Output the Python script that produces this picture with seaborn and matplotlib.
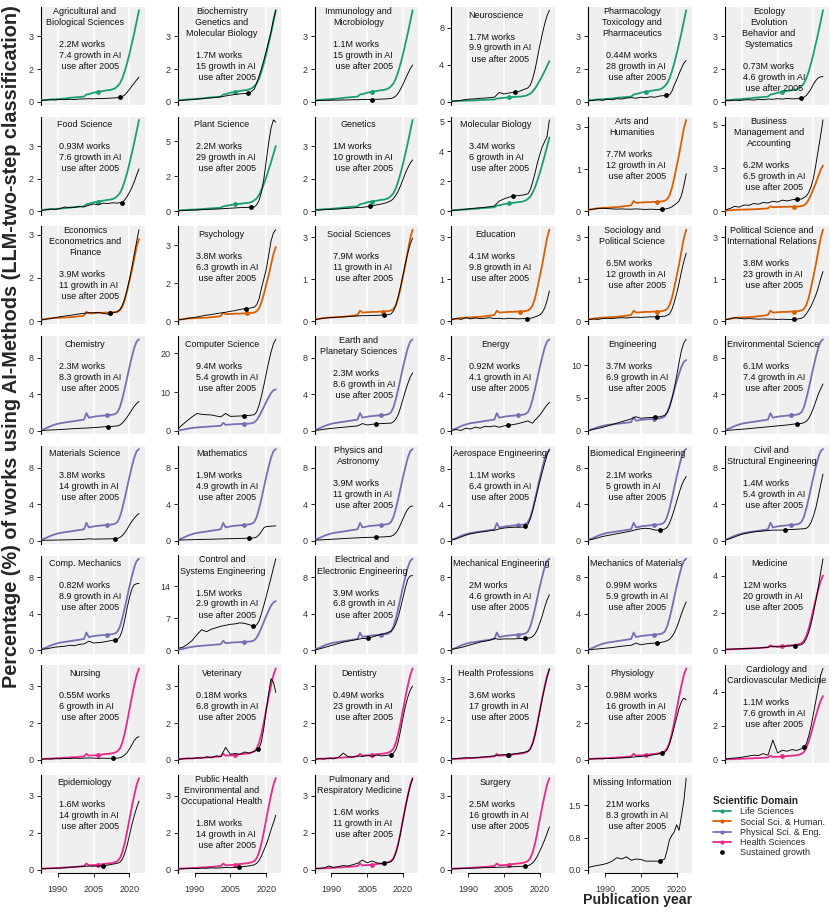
import numpy as np
import matplotlib
matplotlib.use("Agg")
import matplotlib.pyplot as plt
import seaborn as sns
from matplotlib.lines import Line2D
from matplotlib.font_manager import FontProperties

sns.set_style("white")
plt.rcParams['font.family'] = ['Liberation Sans', 'DejaVu Sans']

# ---------------- data ----------------
DOMAIN_YEARS = list(range(1983, 2025))
life = [0.08, 0.08, 0.09, 0.10, 0.11, 0.12, 0.12, 0.13, 0.14, 0.15,
        0.16, 0.17, 0.19, 0.20, 0.21, 0.22, 0.23, 0.24, 0.25, 0.35,
        0.37, 0.40, 0.44, 0.46, 0.48, 0.50, 0.52, 0.54, 0.56, 0.57,
        0.60, 0.65, 0.75, 0.88, 1.12, 1.45, 1.85, 2.30, 2.80, 3.30,
        3.85, 4.40]
social = [0.06, 0.07, 0.08, 0.10, 0.11, 0.12, 0.12, 0.13, 0.13, 0.14,
          0.14, 0.15, 0.15, 0.16, 0.17, 0.18, 0.19, 0.20, 0.22, 0.36,
          0.30, 0.30, 0.31, 0.31, 0.32, 0.32, 0.32, 0.33, 0.33, 0.33,
          0.34, 0.35, 0.37, 0.42, 0.55, 0.80, 1.15, 1.55, 1.95, 2.40,
          2.85, 3.15]
physical = [0.10, 0.18, 0.28, 0.40, 0.52, 0.62, 0.70, 0.78, 0.84, 0.88,
            0.92, 0.96, 1.00, 1.04, 1.08, 1.12, 1.16, 1.20, 1.25, 1.95,
            1.45, 1.50, 1.55, 1.60, 1.62, 1.65, 1.68, 1.70, 1.72, 1.75,
            1.78, 1.85, 2.05, 2.60, 3.50, 4.60, 5.80, 7.00, 8.10, 9.10,
            9.80, 10.05]
health = [0.04, 0.05, 0.05, 0.06, 0.06, 0.07, 0.07, 0.08, 0.08, 0.09,
          0.10, 0.10, 0.11, 0.12, 0.12, 0.13, 0.14, 0.15, 0.16, 0.27,
          0.19, 0.20, 0.20, 0.21, 0.22, 0.23, 0.25, 0.26, 0.27, 0.28,
          0.30, 0.33, 0.38, 0.50, 0.75, 1.15, 1.65, 2.20, 2.75, 3.25,
          3.70, 4.00]

domain_names = ["Life Sciences", "Social Sci. & Human.", "Physical Sci. & Eng.", "Health Sciences"]
domain_colors = ["#1B9E77", "#D95F02", "#7570B3", "#E7298A"]
domain_dot_years = [2007, 2011.8, 2010.7, 2007]

FIELD_YEARS = [1983, 1985, 1987, 1989, 1991, 1993, 1995, 1997, 1999, 2001,
               2003, 2005, 2007, 2009, 2011, 2013, 2015, 2016, 2017, 2018,
               2019, 2020, 2021, 2022, 2023, 2024]

agri = [0.07,0.08,0.10,0.09,0.11,0.10,0.12,0.11,0.13,0.14, 0.15,0.14,0.16,0.15,0.17,0.18,0.20,0.21,0.25,0.33, 0.45,0.60,0.75,0.90,1.05,1.18]
biochem = [0.05,0.07,0.09,0.11,0.13,0.15,0.17,0.19,0.21,0.24, 0.28,0.32,0.35,0.38,0.40,0.42,0.60,0.90,1.22,1.60, 2.00,2.45,2.90,3.35,3.95,4.40]
immuno = [0.05,0.06,0.07,0.07,0.08,0.08,0.09,0.09,0.10,0.10, 0.11,0.11,0.11,0.12,0.13,0.14,0.16,0.20,0.28,0.42, 0.62,0.85,1.10,1.35,1.58,1.77]
neuro = [0.05,0.10,0.15,0.25,0.30,0.32,0.38,0.40,0.45,0.50, 1.00,0.85,0.95,1.02,1.10,1.30,1.50,1.80,2.50,3.50, 4.80,6.10,7.30,8.40,9.30,9.90]
pharma = [0.05,0.06,0.10,0.07,0.12,0.10,0.15,0.13,0.18,0.20, 0.17,0.22,0.20,0.24,0.22,0.28,0.30,0.38,0.33,0.50, 0.80,1.05,1.35,1.60,1.85,1.98]
ecology = [0.06,0.05,0.08,0.06,0.09,0.10,0.08,0.12,0.10,0.13, 0.12,0.15,0.13,0.16,0.14,0.15,0.16,0.22,0.30,0.45, 0.62,0.85,1.02,1.15,1.20,1.21]
food = [0.05,0.08,0.12,0.10,0.14,0.22,0.18,0.20,0.24,0.22, 0.30,0.36,0.32,0.40,0.38,0.42,0.40,0.43,0.42,0.55, 0.72,0.92,1.15,1.42,1.75,2.05]
plant = [0.05,0.06,0.08,0.09,0.10,0.12,0.13,0.15,0.16,0.18, 0.20,0.22,0.24,0.26,0.27,0.28,0.30,0.45,0.75,1.30, 2.20,3.40,4.60,5.60,6.15,6.00]
genetics = [0.08,0.07,0.09,0.10,0.11,0.12,0.14,0.15,0.17,0.19, 0.20,0.23,0.26,0.32,0.36,0.42,0.52,0.62,0.78,0.98, 1.25,1.55,1.85,2.10,2.32,2.48]
molbio = [0.06,0.08,0.10,0.14,0.17,0.20,0.22,0.25,0.28,0.33, 0.62,0.75,0.85,0.92,0.95,0.98,1.05,1.30,1.75,2.30, 2.90,3.40,3.85,4.15,4.45,5.45]
arts = [0.06,0.08,0.10,0.11,0.10,0.09,0.08,0.09,0.08,0.08, 0.09,0.08,0.07,0.08,0.07,0.07,0.08,0.10,0.12,0.16, 0.22,0.28,0.36,0.55,0.88,1.30]
business = [0.10,0.20,0.35,0.30,0.45,0.42,0.55,0.50,0.62,0.58, 0.70,0.65,0.78,0.72,0.80,0.85,0.85,0.95,1.05,1.30, 1.70,2.30,3.20,4.20,5.20,6.28]
economics = [0.04,0.08,0.10,0.14,0.17,0.20,0.22,0.25,0.28,0.30, 0.33,0.32,0.34,0.30,0.27,0.32,0.36,0.45,0.60,0.85, 1.20,1.60,2.05,2.55,3.05,3.51]
psychology = [0.05,0.08,0.12,0.15,0.18,0.22,0.26,0.28,0.32,0.35, 0.38,0.42,0.45,0.50,0.53,0.55,0.60,0.70,0.95,1.40, 1.80,2.20,2.80,3.40,3.75,3.89]
socsci = [0.05,0.08,0.10,0.12,0.13,0.14,0.15,0.16,0.17,0.18, 0.19,0.19,0.20,0.20,0.21,0.21,0.25,0.35,0.55,0.85, 1.20,1.60,2.00,2.35,2.65,2.86]
education = [0.05,0.10,0.06,0.12,0.08,0.11,0.09,0.10,0.12,0.09, 0.10,0.08,0.10,0.09,0.08,0.09,0.09,0.10,0.12,0.15, 0.18,0.22,0.30,0.45,0.70,1.04]
sociology = [0.05,0.08,0.06,0.09,0.10,0.09,0.11,0.12,0.11,0.13, 0.14,0.13,0.14,0.15,0.15,0.16,0.17,0.20,0.25,0.40, 0.65,0.95,1.30,1.70,2.05,2.34]
polsci = [0.05,0.08,0.12,0.10,0.08,0.09,0.08,0.07,0.08,0.07, 0.07,0.06,0.07,0.06,0.06,0.07,0.10,0.15,0.25,0.38, 0.52,0.70,0.90,1.15,1.45,1.71]
chemistry = [0.05,0.07,0.10,0.12,0.15,0.18,0.22,0.25,0.28,0.30, 0.33,0.36,0.40,0.44,0.48,0.50,0.55,0.65,0.85,1.15, 1.50,1.90,2.30,2.70,3.00,3.24]
compsci = [0.50,1.50,2.50,3.40,4.20,4.00,3.90,3.85,3.60,3.40, 4.20,3.50,3.55,3.60,3.65,3.75,3.90,4.60,6.20,8.40, 11.00,13.80,16.60,19.00,21.00,22.10]
earth = [0.05,0.10,0.18,0.25,0.30,0.35,0.40,0.45,0.50,0.55, 0.80,0.65,0.72,0.78,0.80,0.83,0.85,1.00,1.30,1.80, 2.60,3.50,4.40,5.20,5.90,6.37]
energy = [0.05,0.15,0.05,0.30,0.20,0.42,0.30,0.50,0.45,0.55, 0.40,0.55,0.62,0.70,0.80,0.95,1.10,0.95,0.85,1.20, 1.45,1.75,2.10,2.50,2.85,3.13]
engineering = [0.05,0.20,0.35,0.50,0.70,0.90,1.10,1.30,1.50,1.70, 2.00,1.80,1.85,1.90,1.95,2.00,2.20,2.60,3.30,4.50, 6.00,7.80,9.70,11.40,12.50,13.00]
environ = [0.05,0.08,0.12,0.16,0.20,0.25,0.30,0.35,0.40,0.45, 0.50,0.55,0.60,0.65,0.72,0.78,0.82,0.90,1.05,1.35, 1.85,2.50,3.25,4.00,4.60,5.15]
materials = [0.03,0.04,0.05,0.06,0.07,0.08,0.09,0.10,0.12,0.14, 0.20,0.16,0.17,0.18,0.19,0.20,0.24,0.35,0.55,0.85, 1.25,1.70,2.10,2.45,2.75,2.98]
mathematics = [0.05,0.07,0.09,0.10,0.12,0.13,0.14,0.15,0.17,0.18, 0.20,0.21,0.22,0.24,0.25,0.27,0.30,0.40,0.65,1.00, 1.40,1.55,1.55,1.58,1.60,1.62]
physics = [0.05,0.07,0.10,0.13,0.16,0.19,0.22,0.25,0.28,0.30, 0.33,0.35,0.36,0.38,0.40,0.43,0.48,0.60,0.85,1.25, 1.80,2.40,3.00,3.45,3.75,3.80]
aerospace = [0.05,0.20,0.40,0.60,0.75,0.85,0.95,1.00,1.10,1.15, 1.30,1.40,1.45,1.48,1.50,1.50,1.80,2.40,3.30,4.40, 5.50,6.60,7.60,8.60,9.50,10.20]
biomedical = [0.05,0.15,0.30,0.45,0.55,0.65,0.75,0.85,0.95,1.05, 1.20,1.30,1.35,1.30,1.15,1.15,1.25,1.45,1.90,2.60, 3.40,4.30,5.20,6.00,6.60,7.03]
civil = [0.05,0.20,0.40,0.60,0.75,0.85,0.95,1.00,1.05,1.10, 1.15,1.15,1.15,1.20,1.22,1.25,1.28,1.30,1.35,1.55, 2.00,2.70,3.60,4.80,6.10,7.30]
compmech = [0.10,0.15,0.25,0.35,0.40,0.45,0.55,0.50,0.65,0.70, 1.00,0.80,0.85,0.90,1.00,1.10,1.20,1.50,2.20,3.30, 4.60,5.80,6.70,7.20,7.30,7.34]
control = [0.40,0.60,1.20,2.00,3.20,4.20,3.80,4.30,4.60,4.90, 5.10,5.30,5.40,5.60,5.50,5.20,4.90,5.20,6.00,7.50, 9.20,11.00,12.90,14.80,16.80,18.70]
electrical = [0.05,0.15,0.30,0.45,0.60,0.75,0.90,1.00,1.10,1.20, 1.30,1.30,1.45,1.60,1.75,1.90,2.10,2.40,2.90,3.70, 4.70,5.80,6.90,7.80,8.15,8.20]
mechanical = [0.10,0.20,0.30,0.45,0.60,0.75,0.90,1.00,1.10,1.30, 1.20,1.25,1.25,1.25,1.28,1.30,1.32,1.38,1.50,1.80, 2.30,3.00,3.80,4.70,5.50,6.10]
mechmat = [0.05,0.10,0.15,0.20,0.25,0.30,0.38,0.45,0.50,0.55, 0.80,0.60,0.70,0.75,0.80,0.85,0.95,1.05,1.20,1.50, 1.90,2.50,3.20,4.00,4.70,5.30]
medicine = [0.05,0.06,0.07,0.08,0.09,0.10,0.11,0.12,0.14,0.16, 0.22,0.18,0.20,0.22,0.24,0.26,0.30,0.40,0.62,0.95, 1.40,2.00,2.65,3.35,4.15,4.90]
nursing = [0.03,0.05,0.04,0.06,0.05,0.07,0.06,0.08,0.07,0.08, 0.09,0.08,0.07,0.08,0.07,0.07,0.08,0.10,0.14,0.22, 0.32,0.48,0.66,0.85,0.97,1.02]
veterinary = [0.02,0.05,0.08,0.06,0.10,0.08,0.14,0.10,0.18,0.15, 0.55,0.25,0.28,0.25,0.35,0.30,0.38,0.42,0.50,0.80, 1.40,2.20,2.90,3.55,3.40,2.95]
dentistry = [0.03,0.06,0.04,0.08,0.05,0.12,0.30,0.15,0.12,0.18, 0.15,0.20,0.16,0.22,0.18,0.20,0.23,0.30,0.45,0.80, 1.30,1.85,2.35,2.75,3.05,3.23]
healthprof = [0.05,0.06,0.08,0.10,0.09,0.10,0.12,0.14,0.16,0.18, 0.22,0.24,0.24,0.27,0.30,0.33,0.38,0.48,0.72,1.10, 1.60,2.15,2.70,3.20,3.65,4.05]
physiology = [0.04,0.05,0.06,0.05,0.07,0.06,0.08,0.09,0.10,0.12, 0.14,0.15,0.18,0.20,0.24,0.28,0.33,0.45,0.70,1.05, 1.45,1.85,2.25,2.55,2.70,2.62]
cardiology = [0.05,0.10,0.12,0.15,0.20,0.25,0.30,0.28,0.40,0.30, 1.25,0.45,0.60,0.55,0.65,0.60,0.70,0.80,1.00,1.50, 2.10,2.90,3.70,4.50,5.30,5.73]
epidemiology = [0.04,0.05,0.06,0.06,0.07,0.08,0.10,0.12,0.13,0.14, 0.16,0.15,0.16,0.17,0.20,0.24,0.28,0.33,0.45,0.70, 1.05,1.50,1.95,2.35,2.70,3.00]
pubhealth = [0.03,0.04,0.05,0.06,0.05,0.07,0.06,0.08,0.07,0.08, 0.10,0.09,0.10,0.12,0.14,0.17,0.21,0.28,0.40,0.60, 0.85,1.10,1.40,1.75,2.05,2.38]
pulmonary = [0.05,0.06,0.08,0.16,0.10,0.14,0.18,0.16,0.22,0.28, 0.42,0.30,0.38,0.30,0.26,0.30,0.35,0.48,0.74,1.12, 1.62,2.18,2.72,3.22,3.65,3.98]
surgery = [0.03,0.04,0.05,0.06,0.06,0.07,0.08,0.09,0.09,0.10, 0.11,0.11,0.12,0.13,0.14,0.15,0.17,0.22,0.30,0.42, 0.60,0.82,1.05,1.30,1.58,1.87]
missing = [0.05,0.08,0.10,0.12,0.15,0.20,0.28,0.25,0.30,0.22, 0.25,0.24,0.20,0.20,0.20,0.20,0.25,0.45,0.70,0.80, 0.88,1.05,0.92,1.25,1.60,2.14]

field_series = [agri, biochem, immuno, neuro, pharma, ecology,
                food, plant, genetics, molbio, arts, business,
                economics, psychology, socsci, education, sociology, polsci,
                chemistry, compsci, earth, energy, engineering, environ,
                materials, mathematics, physics, aerospace, biomedical, civil,
                compmech, control, electrical, mechanical, mechmat, medicine,
                nursing, veterinary, dentistry, healthprof, physiology, cardiology,
                epidemiology, pubhealth, pulmonary, surgery, missing]

titles = ["Agricultural and\nBiological Sciences", "Biochemistry\nGenetics and\nMolecular Biology",
          "Immunology and\nMicrobiology", "Neuroscience", "Pharmacology\nToxicology and\nPharmaceutics",
          "Ecology\nEvolution\nBehavior and\nSystematics",
          "Food Science", "Plant Science", "Genetics", "Molecular Biology", "Arts and\nHumanities",
          "Business\nManagement and\nAccounting",
          "Economics\nEconometrics and\nFinance", "Psychology", "Social Sciences", "Education",
          "Sociology and\nPolitical Science", "Political Science and\nInternational Relations",
          "Chemistry", "Computer Science", "Earth and\nPlanetary Sciences", "Energy", "Engineering",
          "Environmental Science",
          "Materials Science", "Mathematics", "Physics and\nAstronomy", "Aerospace Engineering",
          "Biomedical Engineering", "Civil and\nStructural Engineering",
          "Comp. Mechanics", "Control and\nSystems Engineering", "Electrical and\nElectronic Engineering",
          "Mechanical Engineering", "Mechanics of Materials", "Medicine",
          "Nursing", "Veterinary", "Dentistry", "Health Professions", "Physiology",
          "Cardiology and\nCardiovascular Medicine",
          "Epidemiology", "Public Health\nEnvironmental and\nOccupational Health",
          "Pulmonary and\nRespiratory Medicine", "Surgery", "Missing Information"]

# domain index per field (None = no domain)
field_domain = [0, 0, 0, 0, 0, 0,
                0, 0, 0, 0, 1, 1,
                1, 1, 1, 1, 1, 1,
                2, 2, 2, 2, 2, 2,
                2, 2, 2, 2, 2, 2,
                2, 2, 2, 2, 2, 3,
                3, 3, 3, 3, 3, 3,
                3, 3, 3, 3, None]

works = ["2.2", "1.7", "1.1", "1.7", "0.44", "0.73",
         "0.93", "2.2", "1", "3.4", "7.7", "6.2",
         "3.9", "3.8", "7.9", "4.1", "6.5", "3.8",
         "2.3", "9.4", "2.3", "0.92", "3.7", "6.1",
         "3.8", "1.9", "3.9", "1.1", "2.1", "1.4",
         "0.82", "1.5", "3.9", "2", "0.99", "12",
         "0.55", "0.18", "0.49", "3.6", "0.98", "1.1",
         "1.6", "1.8", "1.6", "2.5", "21"]
growth = ["7.4", "15", "15", "9.9", "28", "4.6",
          "7.6", "29", "10", "6", "12", "6.5",
          "11", "6.3", "11", "9.8", "12", "23",
          "8.3", "5.4", "8.6", "4.1", "6.9", "7.4",
          "14", "4.9", "11", "6.4", "5", "5.4",
          "8.9", "2.9", "6.8", "4.6", "5.9", "20",
          "6", "6.8", "23", "17", "16", "7.6",
          "14", "14", "11", "16", "8.3"]

sustained_year = [2016, 2012.5, 2007, 2009.5, 2015.5, 2014.8,
                  2017, 2013.8, 2006, 2008.7, 2014, 2013.2,
                  2012, 2011.5, 2012, 2014.5, 2011.8, 2011.8,
                  2011, 2010.8, 2008.7, 2006.5, 2010.8, 2013,
                  2014, 2012.9, 2008.7, 2013.8, 2012.9, 2008,
                  2013.8, 2014.5, 2005.5, 2013.6, 2011.8, 2012.2,
                  2013, 2016.6, 2014.8, 2006.6, 2013.8, 2016.2,
                  2009, 2008.7, 2012, 2014, 2012.9]

ytick_step = [1.57, 1.57, 1.57, 4.0, 1.57, 1.57,
              1.57, 2.35, 1.57, 1.79, 1.46, 2.97,
              1.66, 1.61, 1.44, 1.44, 1.44, 1.44,
              4.0, 9.37, 4.0, 4.0, 4.67, 4.0,
              4.0, 4.0, 4.0, 4.0, 4.0, 4.0,
              4.0, 6.56, 4.0, 4.0, 4.0, 2.0,
              1.61, 1.61, 1.61, 1.78, 1.61, 2.14,
              1.61, 1.61, 1.61, 1.61, 0.75]
ytick_labels = [["0", "2", "3"], ["0", "2", "3"], ["0", "2", "3"], ["0", "4", "8"], ["0", "2", "3"], ["0", "2", "3"],
                ["0", "2", "3"], ["0", "2", "5"], ["0", "2", "3"], ["0", "2", "4", "5"], ["0", "1", "3"], ["0", "3", "5"],
                ["0", "2", "3"], ["0", "2", "3"], ["0", "1", "3"], ["0", "1", "3"], ["0", "1", "3"], ["0", "1", "3"],
                ["0", "4", "8"], ["0", "10", "20"], ["0", "4", "8"], ["0", "4", "8"], ["0", "5", "10"], ["0", "4", "8"],
                ["0", "4", "8"], ["0", "4", "8"], ["0", "4", "8"], ["0", "4", "8"], ["0", "4", "8"], ["0", "4", "8"],
                ["0", "4", "8"], ["0", "7", "14"], ["0", "4", "8"], ["0", "4", "8"], ["0", "4", "8"], ["0", "2", "4"],
                ["0", "2", "3"], ["0", "2", "3"], ["0", "2", "3"], ["0", "2", "3"], ["0", "2", "3"], ["0", "2", "4"],
                ["0", "2", "3"], ["0", "2", "3"], ["0", "2", "3"], ["0", "2", "3"], ["0.0", "0.8", "1.5"]]

x_ticks = [1990, 2005, 2020]

# ---------------- layout ----------------
FW, FH = 834, 913
fig = plt.figure(figsize=(FW / 100, FH / 100), dpi=100)
renderer = fig.canvas.get_renderer()

COL_X = [41 + 136.8 * i for i in range(6)]
ROW_Y = [7 + 109.7 * i for i in range(8)]
PW, PH = 103.5, 98
FS = 6.5
LINE = 11
TITLE_X = 44
STATS_X = 18
domain_series = [life, social, physical, health]

for k, title in enumerate(titles):
    r, c = divmod(k, 6)
    x0, y0 = COL_X[c], ROW_Y[r]
    ax = fig.add_axes([x0 / FW, 1 - (y0 + PH) / FH, PW / FW, PH / FH])
    ax.set_facecolor("#EFEFEF")
    for g in x_ticks:
        ax.axvline(g, color="white", lw=1.1, zorder=1)
    ys = field_series[k]
    d = field_domain[k]
    M = max(ys)
    if d is not None:
        dser = domain_series[d]
        M = max(M, max(dser))
        sns.lineplot(x=DOMAIN_YEARS, y=dser, ax=ax, color=domain_colors[d], lw=1.3, zorder=3)
        ddot = domain_dot_years[d]
        sns.scatterplot(x=[ddot], y=[np.interp(ddot, DOMAIN_YEARS, dser)], ax=ax,
                        color=domain_colors[d], s=12, linewidth=0, zorder=4)
    sns.lineplot(x=FIELD_YEARS, y=ys, ax=ax, color="black", lw=0.65, zorder=5)
    sy = sustained_year[k]
    sns.scatterplot(x=[sy], y=[np.interp(sy, FIELD_YEARS, ys)], ax=ax,
                    color="black", s=12, linewidth=0, zorder=6)
    ax.set_xlim(1983, 2026.3)
    ax.set_ylim(-0.035 * M, 1.035 * M)
    labs = ytick_labels[k]
    ax.set_yticks([ytick_step[k] * i for i in range(len(labs))])
    ax.set_yticklabels(labs)
    ax.set_xlabel("")
    ax.set_ylabel("")
    for s in ["top", "right"]:
        ax.spines[s].set_visible(False)
    ax.spines["left"].set_color("black")
    ax.spines["left"].set_linewidth(0.8)
    ax.tick_params(axis="y", length=2.6, width=0.6, pad=2.6, labelsize=FS,
                   colors="black", labelcolor="#333333", left=True)
    if r == 7:
        ax.set_xticks(x_ticks)
        ax.set_xticklabels([str(v) for v in x_ticks])
        ax.spines["bottom"].set_visible(True)
        ax.spines["bottom"].set_color("black")
        ax.spines["bottom"].set_linewidth(0.8)
        ax.spines["bottom"].set_bounds(1990, 2020)
        ax.tick_params(axis="x", length=2.9, width=0.6, pad=6.0, labelsize=FS,
                       colors="black", labelcolor="#333333", bottom=True)
    else:
        ax.set_xticks([])
        ax.spines["bottom"].set_visible(False)

    # text block
    tl = title.split("\n")
    n = len(tl)
    off = 8 if n == 1 else 4.5
    texts = []
    for i, ln in enumerate(tl):
        t = ax.text(TITLE_X / PW, 1 - (off + i * LINE) / PH, ln, ha="center", va="center",
                    fontsize=FS, color="#111111", transform=ax.transAxes, zorder=7)
        texts.append(t)
    wmax = max(t.get_window_extent(renderer).width for t in texts)
    left = TITLE_X - wmax / 2
    right = TITLE_X + wmax / 2
    shift = 0
    if left < 2:
        shift = 2 - left
    elif right > PW - 2:
        shift = (PW - 2) - right
    if shift:
        for t in texts:
            t.set_x((TITLE_X + shift) / PW)
    stats = [f"{works[k]}M works", f"{growth[k]} growth in AI", " use after 2005"]
    for j, ln in enumerate(stats):
        ax.text(STATS_X / PW, 1 - (off + (n + 1 + j) * LINE) / PH, ln, ha="left", va="center",
                fontsize=FS, color="#111111", transform=ax.transAxes, zorder=7)

# axis titles
fig.text(12 / FW, 1 - 347 / FH,
         "Percentage (%) of works using AI-Methods (LLM-two-step classification)",
         rotation=90, ha="center", va="center", fontsize=14.3, fontweight="bold")
fig.text(638 / FW, 1 - 900 / FH, "Publication year", ha="center", va="center",
         fontsize=10.2, fontweight="bold")

# legend
handles = [Line2D([], [], color=col, lw=1.3, marker="o", markersize=3, markeredgewidth=0)
           for col in domain_colors]
handles.append(Line2D([], [], color="black", lw=0, linestyle="none", marker="o",
                      markersize=3.4, markeredgewidth=0))
labels = domain_names + ["Sustained growth"]
fig.legend(handles, labels, loc="upper left", bbox_to_anchor=(713 / FW, 1 - 796 / FH),
           frameon=False, title="Scientific Domain",
           title_fontproperties=FontProperties(weight="bold", size=7.3),
           fontsize=FS, handlelength=1.95, handletextpad=1.0, labelspacing=0.14,
           alignment="left", borderpad=0, borderaxespad=0)

fig.savefig("out.png", dpi=100)
